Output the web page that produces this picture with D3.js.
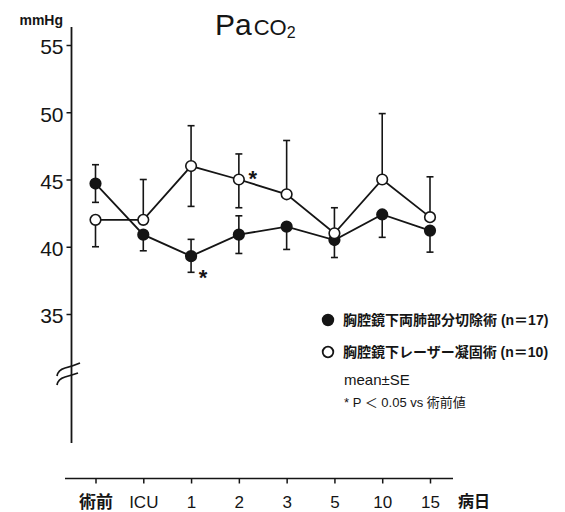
<!DOCTYPE html>
<html>
<head>
<meta charset="utf-8">
<script src="https://cdn.jsdelivr.net/npm/d3@7"></script>
<style>
  body { margin: 0; background: #fff; }
  svg { display: block; font-family: "Liberation Sans", "Noto Sans CJK JP", sans-serif; }
</style>
</head>
<body>
<svg id="chart" width="565" height="512"></svg>
<script>
// Data
const days = ["術前", "ICU", "1", "2", "3", "5", "10", "15"];
const yTicks = [35, 40, 45, 50, 55];

// ● 胸腔鏡下両肺部分切除術 (n=17)
const resectMean = [44.7, 40.9, 39.3, 40.9, 41.5, 40.5, 42.4, 41.2];
const resectUp   = [1.4, null, 1.25, 1.4, null, null, null, null];   // upper SE bars shown
const resectDown = [1.4, 1.2, 1.2, 1.4, 1.7, 1.3, 1.7, 1.6];        // lower SE bars shown
const resectSig  = [false, false, true, false, false, false, false, false];

// ○ 胸腔鏡下レーザー凝固術 (n=10)
const laserMean = [42.0, 42.0, 46.0, 45.0, 43.9, 41.0, 45.0, 42.2];
const laserUp   = [null, 3.0, 3.0, 1.9, 4.0, 1.9, 4.9, 3.0];
const laserDown = [2.0, null, 3.0, 2.1, null, null, null, null];
const laserSig  = [false, false, false, true, false, false, false, false];

// SVG
const svg = d3.select("#chart");
const ink = "#151515";

// Scales
const x = d3.scalePoint().domain(days).range([95.5, 430]);
const y = d3.scaleLinear().domain([35, 55]).range([314, 45]);

// Y axis (broken)
const axisX = 71.5;
svg.append("line")
  .attr("x1", axisX).attr("x2", axisX)
  .attr("y1", 27).attr("y2", 443)
  .attr("stroke", ink).attr("stroke-width", 1.8);

const yAxis = svg.append("g")
  .attr("transform", `translate(${axisX},0)`)
  .call(d3.axisLeft(y).tickValues(yTicks).tickSize(5).tickPadding(3));
yAxis.select(".domain").remove();
yAxis.selectAll(".tick line").attr("stroke", ink).attr("stroke-width", 1.5);
yAxis.selectAll(".tick text")
  .attr("font-size", 21).attr("fill", ink)
  .attr("font-family", "Liberation Sans, Arial, sans-serif")
  .attr("dy", "0.42em");

// break marks
svg.append("path")
  .attr("d", "M57,376 q1,-6 8,-8 q8,-2 15,-5")
  .attr("fill", "none").attr("stroke", ink).attr("stroke-width", 1.8);
svg.append("path")
  .attr("d", "M57,385 q1,-6 8,-8 q7,-2 13,-4")
  .attr("fill", "none").attr("stroke", ink).attr("stroke-width", 1.8);

svg.append("text")
  .attr("x", 63).attr("y", 25)
  .attr("text-anchor", "end")
  .attr("font-size", 14).attr("font-weight", "bold").attr("fill", ink)
  .text("mmHg");

// X axis
const xBase = 478.5;
svg.append("line")
  .attr("x1", 65).attr("x2", 453)
  .attr("y1", xBase).attr("y2", xBase)
  .attr("stroke", ink).attr("stroke-width", 1.6);

const xAxis = svg.append("g")
  .attr("transform", `translate(0,${xBase})`)
  .call(d3.axisBottom(x).tickSize(5).tickPadding(12));
xAxis.select(".domain").remove();
xAxis.selectAll(".tick line").attr("stroke", ink).attr("stroke-width", 1.5);
xAxis.selectAll(".tick text")
  .attr("font-size", 17).attr("fill", ink)
  .attr("font-family", "Liberation Sans, Noto Sans CJK JP, sans-serif")
  .attr("font-weight", d => /\d|ICU/.test(d) ? "normal" : "bold");

svg.append("text")
  .attr("x", 458).attr("y", 507)
  .attr("font-size", 16).attr("font-weight", "bold").attr("fill", ink)
  .text("病日");

// Title
const title = svg.append("text")
  .attr("x", 215).attr("y", 35)
  .attr("font-size", 30).attr("fill", ink);
title.append("tspan").text("Pa");
title.append("tspan").attr("font-size", 22).attr("dx", 2).text("CO");
title.append("tspan").attr("font-size", 16).attr("dy", 3).text("2");

// Series
const series = [
  { mean: resectMean, up: resectUp, down: resectDown, sig: resectSig, fill: ink, star: [12, 29] },
  { mean: laserMean, up: laserUp, down: laserDown, sig: laserSig, fill: "#fff", star: [14, 6] }
];

const line = d3.line()
  .x((d, i) => x(days[i]))
  .y(d => y(d));

series.forEach(s => {
  svg.append("path")
    .attr("d", line(s.mean))
    .attr("fill", "none")
    .attr("stroke", ink)
    .attr("stroke-width", 1.8);
});

// Error bars
series.forEach(s => {
  const g = svg.append("g").attr("stroke", ink).attr("stroke-width", 1.6);
  s.mean.forEach((m, i) => {
    const cx = x(days[i]);
    [[s.up[i], 1], [s.down[i], -1]].forEach(([e, dir]) => {
      if (e == null) return;
      const end = y(m + dir * e);
      g.append("line").attr("x1", cx).attr("x2", cx).attr("y1", y(m)).attr("y2", end);
      g.append("line").attr("x1", cx - 3.5).attr("x2", cx + 3.5).attr("y1", end).attr("y2", end);
    });
  });
});

// Points
series.forEach(s => {
  svg.append("g")
    .selectAll("circle")
    .data(s.mean)
    .join("circle")
    .attr("cx", (d, i) => x(days[i]))
    .attr("cy", d => y(d))
    .attr("r", 5.3)
    .attr("fill", s.fill)
    .attr("stroke", ink)
    .attr("stroke-width", 1.6);

  svg.append("g")
    .selectAll("text")
    .data(s.mean.map((m, i) => ({ m, i })).filter(d => s.sig[d.i]))
    .join("text")
    .attr("x", d => x(days[d.i]) + s.star[0])
    .attr("y", d => y(d.m) + s.star[1])
    .attr("text-anchor", "middle")
    .attr("font-size", 22).attr("font-weight", "bold").attr("fill", ink)
    .text("*");
});

// Legend
const legend = svg.append("g").attr("transform", "translate(328,320)");
const legendItems = [
  { fill: ink, label: "胸腔鏡下両肺部分切除術 (n＝17)" },
  { fill: "#fff", label: "胸腔鏡下レーザー凝固術 (n＝10)" }
];
legendItems.forEach((d, i) => {
  legend.append("circle")
    .attr("cx", 0).attr("cy", i * 32)
    .attr("r", 5.3)
    .attr("fill", d.fill).attr("stroke", ink).attr("stroke-width", 1.8);
  legend.append("text")
    .attr("x", 15).attr("y", i * 32 + 5)
    .attr("font-size", 14).attr("font-weight", "bold").attr("fill", ink)
    .text(d.label);
});
legend.append("text")
  .attr("x", 16).attr("y", 65)
  .attr("font-size", 15).attr("fill", ink)
  .text("mean±SE");
legend.append("text")
  .attr("x", 16).attr("y", 87)
  .attr("font-size", 13).attr("fill", ink)
  .text("* P ＜ 0.05 vs 術前値");
</script>
</body>
</html>
